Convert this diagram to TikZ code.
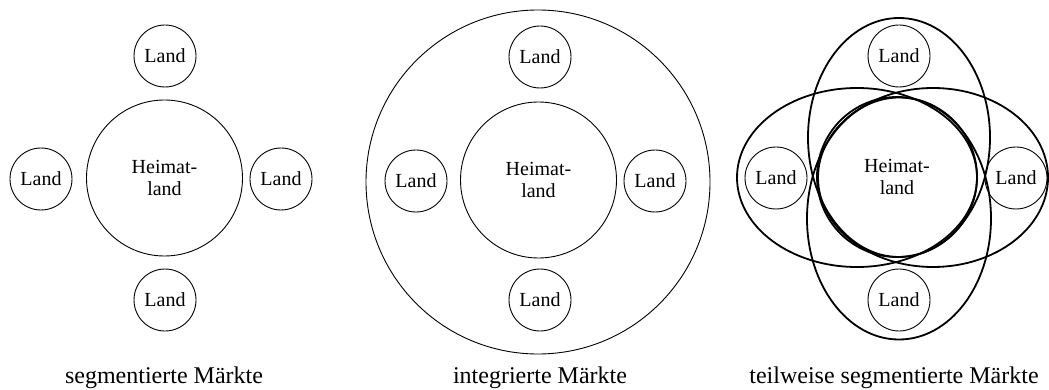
\documentclass[tikz,border=0pt]{standalone}
\usepackage{fontspec}
\setmainfont{Liberation Serif}
\begin{document}
\begin{tikzpicture}[x=1pt,y=-1pt,
  land/.style={circle,draw,line width=0.9pt,minimum size=62pt,inner sep=0pt,font=\fontsize{20}{22}\selectfont},
  home/.style={circle,draw,line width=0.9pt,minimum size=156pt,inner sep=0pt,align=center,font=\fontsize{20}{22}\selectfont},
  homethick/.style={home,line width=1.8pt,minimum size=160pt},
  caption/.style={anchor=base,inner sep=0pt,font=\fontsize{24}{28}\selectfont},
  market/.style={line width=1.8pt}]
\useasboundingbox (0,0) rectangle (1049,390);
% --- segmentierte Maerkte
\node[home] (h1) at (164.5,178) {Heimat-\\land};
\node[land] (t1) at (165,56) {Land};
\node[land] (l1) at (41,179) {Land};
\node[land] (r1) at (281,179) {Land};
\node[land] (b1) at (165,300) {Land};
\node[caption] (c1) at (164,383) {segmentierte Märkte};
% --- integrierte Maerkte
\draw[line width=0.9pt] (538,182) circle[radius=172pt];
\node[home] (h2) at (538.5,180) {Heimat-\\land};
\node[land] (t2) at (540,57) {Land};
\node[land] (l2) at (416,181) {Land};
\node[land] (r2) at (655,181) {Land};
\node[land] (b2) at (540,300) {Land};
\node[caption] (c2) at (540,383) {integrierte Märkte};
% --- teilweise segmentierte Maerkte
\node[homethick] (h3) at (897,177) {Heimat-\\land};
\node[land] (t3) at (899,56) {Land};
\node[land] (l3) at (776,178) {Land};
\node[land] (r3) at (1016,178) {Land};
\node[land] (b3) at (899,300) {Land};
\draw[market] (899,137.5) ellipse[x radius=91pt,y radius=119.5pt];
\draw[market] (899,218.5) ellipse[x radius=92pt,y radius=121pt];
\draw[market] (857,177.5) ellipse[x radius=120pt,y radius=89.5pt];
\draw[market] (933,177.5) ellipse[x radius=115pt,y radius=89.5pt];
\node[caption] (c3) at (894,383) {teilweise segmentierte Märkte};
\end{tikzpicture}
\end{document}
